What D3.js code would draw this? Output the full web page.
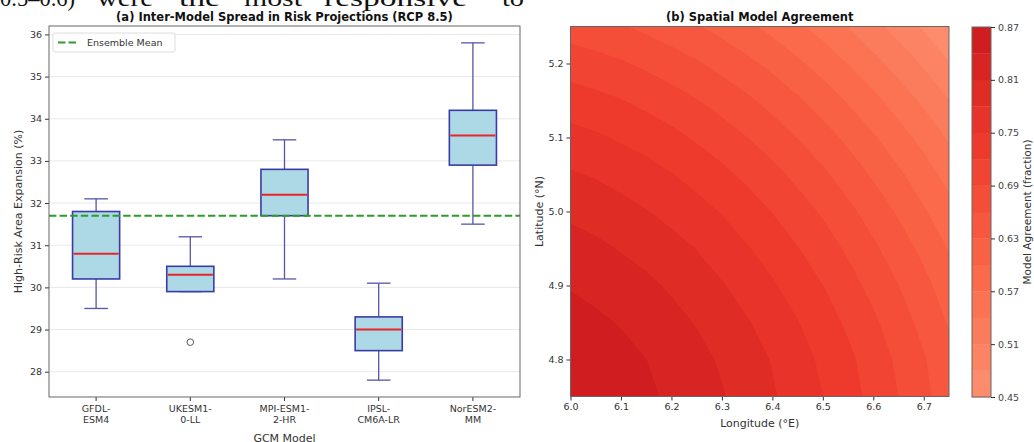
<!DOCTYPE html>
<html>
<head>
<meta charset="utf-8">
<script src="https://cdn.jsdelivr.net/npm/d3@7"></script>
<style>
  html, body { margin: 0; padding: 0; background: #fff; }
  svg { display: block; font-family: "DejaVu Sans", sans-serif; }
</style>
</head>
<body>
<svg id="fig" width="1034" height="442"></svg>
<script>
// ---------- Panel (a): inter-model spread (box statistics per GCM) ----------
const models = ["GFDL-ESM4", "UKESM1-0-LL", "MPI-ESM1-2-HR", "IPSL-CM6A-LR", "NorESM2-MM"];
const modelTickLabels = ["GFDL-\nESM4", "UKESM1-\n0-LL", "MPI-ESM1-\n2-HR", "IPSL-\nCM6A-LR", "NorESM2-\nMM"];
const whiskerLow  = [29.5, 29.9, 30.2, 27.8, 31.5];
const q1          = [30.2, 29.9, 31.7, 28.5, 32.9];
const medians     = [30.8, 30.3, 32.2, 29.0, 33.6];
const q3          = [31.8, 30.5, 32.8, 29.3, 34.2];
const whiskerHigh = [32.1, 31.2, 33.5, 30.1, 35.8];
const outliers    = [[], [28.7], [], [], []];
const ensembleMean = 31.7;
const yTicksA = [28, 29, 30, 31, 32, 33, 34, 35, 36];
const yDomainA = [27.4, 36.2];

// ---------- Panel (b): spatial model agreement field ----------
const lons = [6.00, 6.05, 6.10, 6.15, 6.20, 6.25, 6.30, 6.35, 6.40, 6.45, 6.50, 6.55, 6.60, 6.65, 6.70, 6.75];
const lats = [4.75, 4.80, 4.85, 4.90, 4.95, 5.00, 5.05, 5.10, 5.15, 5.20, 5.25];
// one row per latitude (south to north), one value per longitude (west to east)
const agreement = [
  [0.868, 0.862, 0.854, 0.845, 0.835, 0.824, 0.812, 0.798, 0.783, 0.767, 0.750, 0.731, 0.711, 0.690, 0.667, 0.644],
  [0.862, 0.856, 0.849, 0.840, 0.830, 0.819, 0.806, 0.793, 0.778, 0.762, 0.744, 0.726, 0.706, 0.684, 0.662, 0.638],
  [0.851, 0.845, 0.838, 0.829, 0.819, 0.808, 0.795, 0.782, 0.767, 0.751, 0.733, 0.715, 0.695, 0.673, 0.651, 0.627],
  [0.838, 0.832, 0.824, 0.816, 0.806, 0.794, 0.782, 0.768, 0.753, 0.737, 0.720, 0.701, 0.681, 0.660, 0.638, 0.614],
  [0.822, 0.816, 0.808, 0.800, 0.790, 0.779, 0.766, 0.752, 0.738, 0.721, 0.704, 0.685, 0.665, 0.644, 0.622, 0.598],
  [0.804, 0.798, 0.790, 0.781, 0.771, 0.760, 0.748, 0.734, 0.719, 0.703, 0.686, 0.667, 0.647, 0.626, 0.603, 0.580],
  [0.783, 0.777, 0.769, 0.761, 0.751, 0.740, 0.727, 0.713, 0.699, 0.682, 0.665, 0.646, 0.626, 0.605, 0.583, 0.559],
  [0.760, 0.754, 0.746, 0.738, 0.728, 0.716, 0.704, 0.690, 0.675, 0.659, 0.642, 0.623, 0.603, 0.582, 0.560, 0.536],
  [0.734, 0.728, 0.721, 0.712, 0.702, 0.691, 0.678, 0.665, 0.650, 0.634, 0.616, 0.597, 0.578, 0.556, 0.534, 0.510],
  [0.706, 0.700, 0.693, 0.684, 0.674, 0.663, 0.650, 0.637, 0.622, 0.605, 0.588, 0.569, 0.549, 0.528, 0.506, 0.482],
  [0.676, 0.670, 0.662, 0.653, 0.643, 0.632, 0.620, 0.606, 0.591, 0.575, 0.558, 0.539, 0.519, 0.498, 0.475, 0.452]
];
const levels = [0.45, 0.48, 0.51, 0.54, 0.57, 0.60, 0.63, 0.66, 0.69, 0.72, 0.75, 0.78, 0.81, 0.84, 0.87];
const colorbarTicks = [0.45, 0.51, 0.57, 0.63, 0.69, 0.75, 0.81, 0.87];
const lonTicks = [6.0, 6.1, 6.2, 6.3, 6.4, 6.5, 6.6, 6.7];
const latTicks = [4.8, 4.9, 5.0, 5.1, 5.2];

// ---------- layout ----------
const svg = d3.select("#fig");
const A = { left: 49, right: 520, top: 26, bottom: 397 };
const B = { left: 570.5, right: 949, top: 26.5, bottom: 396.5 };
const C = { left: 972, right: 991, top: 27, bottom: 397 };
const tickColor = "#333";
const frameColor = "#666";

// Last line of the body text running just above the figure
const bodyWords = [["0.5–0.6)", 0, 75], ["were", 97, 56], ["the", 179, 41], ["most", 244, 58], ["responsive", 324, 143], ["to", 502, 22]];
svg.append("g").selectAll("text").data(bodyWords).join("text")
  .attr("x", d => d[1]).attr("y", 6)
  .attr("textLength", d => d[2]).attr("lengthAdjust", "spacingAndGlyphs")
  .style("font-family", "'Liberation Serif', 'DejaVu Serif', serif")
  .style("font-size", "24px").attr("fill", "#111")
  .text(d => d[0]);

// ======================= Panel (a) =======================
const xA = d3.scaleBand().domain(models).range([A.left, A.right]).paddingInner(0.5).paddingOuter(0.25);
const yA = d3.scaleLinear().domain(yDomainA).range([A.bottom, A.top]);
const gA = svg.append("g");

// horizontal grid
gA.append("g").selectAll("line").data(yTicksA).join("line")
  .attr("x1", A.left).attr("x2", A.right)
  .attr("y1", d => yA(d)).attr("y2", d => yA(d))
  .attr("stroke", "#e6e6e6").attr("stroke-width", 0.9);

// y axis
const axLeft = gA.append("g").attr("transform", `translate(${A.left},0)`)
  .call(d3.axisLeft(yA).tickValues(yTicksA).tickSize(4).tickPadding(3).tickFormat(d3.format("d")));
axLeft.select(".domain").remove();
axLeft.selectAll("line").attr("stroke", tickColor);
axLeft.selectAll("text").attr("fill", tickColor).style("font-size", "9.5px").style("font-family", "DejaVu Sans");

// x axis with two-line labels
const axBottom = gA.append("g").attr("transform", `translate(0,${A.bottom})`)
  .call(d3.axisBottom(xA).tickSize(4).tickPadding(4).tickFormat((d, i) => modelTickLabels[i]));
axBottom.select(".domain").remove();
axBottom.selectAll("line").attr("stroke", tickColor);
axBottom.selectAll("text").each(function (d, i) {
  const t = d3.select(this);
  const lines = modelTickLabels[i].split("\n");
  t.text(null).attr("fill", tickColor).style("font-size", "9.5px").style("font-family", "DejaVu Sans");
  lines.forEach((ln, k) => t.append("tspan").attr("x", 0).attr("dy", k === 0 ? "0.71em" : "1.2em").text(ln));
});

// boxes
const boxW = xA.bandwidth();
const capW = boxW / 2;
const boxes = gA.append("g").selectAll("g").data(models).join("g")
  .attr("transform", d => `translate(${xA(d) + boxW / 2},0)`);
const whiskerColor = "#5555aa";
const boxEdge = "#3b3ba8";
boxes.append("line").attr("x1", 0).attr("x2", 0)
  .attr("y1", (d, i) => yA(q3[i])).attr("y2", (d, i) => yA(whiskerHigh[i]))
  .attr("stroke", whiskerColor).attr("stroke-width", 1.3);
boxes.append("line").attr("x1", 0).attr("x2", 0)
  .attr("y1", (d, i) => yA(q1[i])).attr("y2", (d, i) => yA(whiskerLow[i]))
  .attr("stroke", whiskerColor).attr("stroke-width", 1.3);
boxes.append("line").attr("x1", -capW / 2).attr("x2", capW / 2)
  .attr("y1", (d, i) => yA(whiskerHigh[i])).attr("y2", (d, i) => yA(whiskerHigh[i]))
  .attr("stroke", whiskerColor).attr("stroke-width", 1.3);
boxes.append("line").attr("x1", -capW / 2).attr("x2", capW / 2)
  .attr("y1", (d, i) => yA(whiskerLow[i])).attr("y2", (d, i) => yA(whiskerLow[i]))
  .attr("stroke", whiskerColor).attr("stroke-width", 1.3);
boxes.append("rect")
  .attr("x", -boxW / 2).attr("width", boxW)
  .attr("y", (d, i) => yA(q3[i])).attr("height", (d, i) => yA(q1[i]) - yA(q3[i]))
  .attr("fill", "#add8e6").attr("stroke", boxEdge).attr("stroke-width", 1.6);
boxes.append("line").attr("x1", -boxW / 2 + 1).attr("x2", boxW / 2 - 1)
  .attr("y1", (d, i) => yA(medians[i])).attr("y2", (d, i) => yA(medians[i]))
  .attr("stroke", "#e8262a").attr("stroke-width", 2);
boxes.each(function (d, i) {
  d3.select(this).selectAll("circle").data(outliers[i]).join("circle")
    .attr("cx", 0).attr("cy", v => yA(v)).attr("r", 3.3)
    .attr("fill", "none").attr("stroke", "#555").attr("stroke-width", 1);
});

// ensemble mean
const meanColor = "#2a9d2a";
gA.append("line").attr("x1", A.left).attr("x2", A.right)
  .attr("y1", yA(ensembleMean)).attr("y2", yA(ensembleMean))
  .attr("stroke", meanColor).attr("stroke-width", 2).attr("stroke-dasharray", "7.4,3.2");

// frame
gA.append("rect").attr("x", A.left).attr("y", A.top)
  .attr("width", A.right - A.left).attr("height", A.bottom - A.top)
  .attr("fill", "none").attr("stroke", frameColor).attr("stroke-width", 1);

// legend
const lg = gA.append("g").attr("transform", "translate(53,33)");
lg.append("rect").attr("width", 122).attr("height", 19).attr("rx", 2)
  .attr("fill", "#fff").attr("fill-opacity", 0.85).attr("stroke", "#d5d5d5").attr("stroke-width", 0.8);
lg.append("line").attr("x1", 5).attr("x2", 25).attr("y1", 9.5).attr("y2", 9.5)
  .attr("stroke", meanColor).attr("stroke-width", 2).attr("stroke-dasharray", "7.4,3.2");
lg.append("text").attr("x", 34).attr("y", 13).style("font-size", "9.5px").attr("fill", tickColor).text("Ensemble Mean");

// titles & labels
svg.append("text").attr("x", (A.left + A.right) / 2).attr("y", 21).attr("text-anchor", "middle")
  .style("font-size", "11.5px").style("font-weight", "bold").attr("fill", "#111")
  .text("(a) Inter-Model Spread in Risk Projections (RCP 8.5)");
svg.append("text").attr("transform", `translate(21.5,${(A.top + A.bottom) / 2}) rotate(-90)`)
  .attr("text-anchor", "middle").style("font-size", "11px").attr("fill", tickColor)
  .text("High-Risk Area Expansion (%)");
svg.append("text").attr("x", (A.left + A.right) / 2).attr("y", 441.5).attr("text-anchor", "middle")
  .style("font-size", "11px").attr("fill", tickColor).text("GCM Model");

// ======================= Panel (b) =======================
const xB = d3.scaleLinear().domain([lons[0], lons[lons.length - 1]]).range([B.left, B.right]);
const yB = d3.scaleLinear().domain([lats[0], lats[lats.length - 1]]).range([B.bottom, B.top]);
const redsStops = ["#fff5f0", "#fee0d2", "#fcbba1", "#fc9272", "#fb6a4a", "#ef3b2c", "#cb181d", "#a50f15", "#67000d"];
const reds = d3.scaleLinear().domain(d3.range(9).map(k => k / 8)).range(redsStops).interpolate(d3.interpolateRgb);
const levelToT = d3.scaleLinear().domain([levels[0], levels[levels.length - 1]]).range([0.38, 0.745]);
const bandColor = lo => reds(levelToT(lo + (levels[1] - levels[0]) / 2));

const dLon = lons[1] - lons[0], dLat = lats[1] - lats[0];
const gridProj = d3.geoTransform({
  point(x, y) { this.stream.point(xB(lons[0] + (x - 0.5) * dLon), yB(lats[0] + (y - 0.5) * dLat)); }
});
const pathB = d3.geoPath(gridProj);
const bands = d3.contours().size([lons.length, lats.length])
  .thresholds(levels.slice(0, -1))(agreement.flat());

svg.append("clipPath").attr("id", "clipB").append("rect")
  .attr("x", B.left).attr("y", B.top).attr("width", B.right - B.left).attr("height", B.bottom - B.top);
const gB = svg.append("g");
gB.append("g").attr("clip-path", "url(#clipB)").selectAll("path").data(bands).join("path")
  .attr("d", pathB).attr("fill", d => bandColor(d.value))
  .attr("stroke", d => bandColor(d.value)).attr("stroke-width", 0.4);

const axBLeft = gB.append("g").attr("transform", `translate(${B.left},0)`)
  .call(d3.axisLeft(yB).tickValues(latTicks).tickSize(4).tickPadding(3).tickFormat(d3.format(".1f")));
axBLeft.select(".domain").remove();
axBLeft.selectAll("line").attr("stroke", tickColor);
axBLeft.selectAll("text").attr("fill", tickColor).style("font-size", "9.5px").style("font-family", "DejaVu Sans");

const axBBottom = gB.append("g").attr("transform", `translate(0,${B.bottom})`)
  .call(d3.axisBottom(xB).tickValues(lonTicks).tickSize(4).tickPadding(3).tickFormat(d3.format(".1f")));
axBBottom.select(".domain").remove();
axBBottom.selectAll("line").attr("stroke", tickColor);
axBBottom.selectAll("text").attr("fill", tickColor).style("font-size", "9.5px").style("font-family", "DejaVu Sans");

gB.append("rect").attr("x", B.left).attr("y", B.top)
  .attr("width", B.right - B.left).attr("height", B.bottom - B.top)
  .attr("fill", "none").attr("stroke", frameColor).attr("stroke-width", 1);

svg.append("text").attr("x", (B.left + B.right) / 2).attr("y", 21).attr("text-anchor", "middle")
  .style("font-size", "11.5px").style("font-weight", "bold").attr("fill", "#111")
  .text("(b) Spatial Model Agreement");
svg.append("text").attr("transform", `translate(543,${(B.top + B.bottom) / 2}) rotate(-90)`)
  .attr("text-anchor", "middle").style("font-size", "11px").attr("fill", tickColor)
  .text("Latitude (°N)");
svg.append("text").attr("x", (B.left + B.right) / 2).attr("y", 427).attr("text-anchor", "middle")
  .style("font-size", "11px").attr("fill", tickColor).text("Longitude (°E)");

// ---------- colour bar ----------
const yC = d3.scaleLinear().domain([levels[0], levels[levels.length - 1]]).range([C.bottom, C.top]);
const gC = svg.append("g");
gC.selectAll("rect.band").data(levels.slice(0, -1)).join("rect").attr("class", "band")
  .attr("x", C.left).attr("width", C.right - C.left)
  .attr("y", (d, i) => yC(levels[i + 1])).attr("height", (d, i) => yC(d) - yC(levels[i + 1]) + 0.3)
  .attr("fill", d => bandColor(d));
gC.append("rect").attr("x", C.left).attr("y", C.top)
  .attr("width", C.right - C.left).attr("height", C.bottom - C.top)
  .attr("fill", "none").attr("stroke", frameColor).attr("stroke-width", 1);
const axC = gC.append("g").attr("transform", `translate(${C.right},0)`)
  .call(d3.axisRight(yC).tickValues(colorbarTicks).tickSize(4).tickPadding(3).tickFormat(d3.format(".2f")));
axC.select(".domain").remove();
axC.selectAll("line").attr("stroke", tickColor);
axC.selectAll("text").attr("fill", "#444").style("font-size", "9.5px").style("font-family", "DejaVu Sans");
svg.append("text").attr("transform", `translate(1030.5,${(C.top + C.bottom) / 2}) rotate(-90)`)
  .attr("text-anchor", "middle").style("font-size", "10.5px").attr("fill", tickColor)
  .text("Model Agreement (fraction)");
</script>
</body>
</html>
